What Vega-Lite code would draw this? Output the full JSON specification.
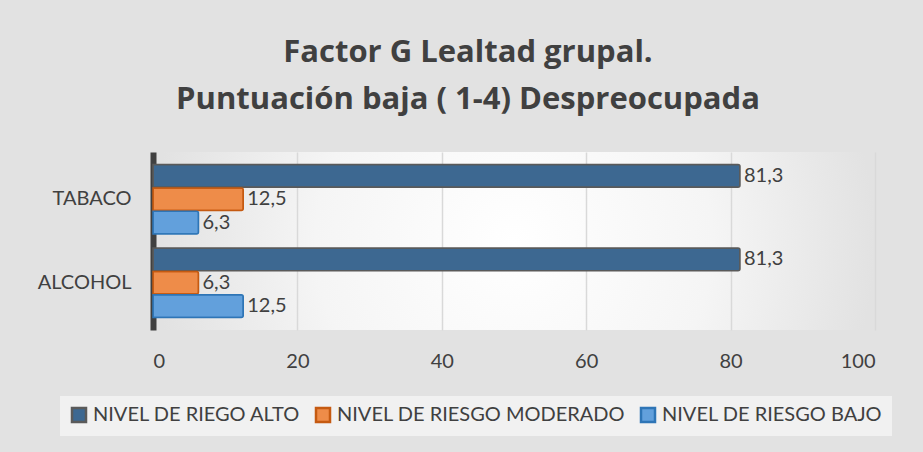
{
  "$schema": "https://vega.github.io/schema/vega-lite/v6.json",
  "autosize": "none",
  "width": 722,
  "height": 178,
  "padding": {"left": 153, "top": 152, "right": 48, "bottom": 122},
  "background": "#e2e2e2",
  "config": {
    "font": "Lato",
    "view": {"stroke": null, "fill": {"gradient": "radial", "stops": [{"offset": 0, "color": "#ffffff"}, {"offset": 0.55, "color": "#f5f5f5"}, {"offset": 1, "color": "#e2e2e2"}]}}
  },
  "title": {
    "text": ["Factor G Lealtad grupal.", "Puntuación baja ( 1-4) Despreocupada"],
    "font": "Open Sans",
    "fontSize": 31,
    "fontWeight": "bold",
    "color": "#404040",
    "lineHeight": 47,
    "anchor": "middle",
    "dx": -46,
    "offset": 36
  },
  "data": {
    "values": [
      {"categoria": "TABACO", "serie": "NIVEL DE RIEGO ALTO", "valor": 81.3, "etiqueta": "81,3"},
      {"categoria": "TABACO", "serie": "NIVEL DE RIESGO MODERADO", "valor": 12.5, "etiqueta": "12,5"},
      {"categoria": "TABACO", "serie": "NIVEL DE RIESGO BAJO", "valor": 6.3, "etiqueta": "6,3"},
      {"categoria": "ALCOHOL", "serie": "NIVEL DE RIEGO ALTO", "valor": 81.3, "etiqueta": "81,3"},
      {"categoria": "ALCOHOL", "serie": "NIVEL DE RIESGO MODERADO", "valor": 6.3, "etiqueta": "6,3"},
      {"categoria": "ALCOHOL", "serie": "NIVEL DE RIESGO BAJO", "valor": 12.5, "etiqueta": "12,5"}
    ]
  },
  "encoding": {
    "y": {
      "field": "categoria", "type": "nominal", "sort": ["TABACO", "ALCOHOL"],
      "scale": {"paddingInner": 0.17, "paddingOuter": 0.15},
      "axis": {"title": null, "labelFontSize": 20, "labelColor": "#404040", "labelPadding": 22, "ticks": false, "domainColor": "#404040", "domainWidth": 6, "labelFont": "Lato"}
    },
    "yOffset": {
      "field": "serie", "type": "nominal",
      "sort": ["NIVEL DE RIEGO ALTO", "NIVEL DE RIESGO MODERADO", "NIVEL DE RIESGO BAJO"],
      "scale": {"paddingInner": 0.03}
    },
    "x": {
      "field": "valor", "type": "quantitative",
      "scale": {"domain": [0, 100]},
      "axis": {"title": null, "values": [0, 20, 40, 60, 80, 100], "labelFontSize": 20, "labelColor": "#404040", "labelPadding": 21, "ticks": false, "domain": false, "grid": true, "gridColor": "#d9d9d9", "gridWidth": 1.5, "labelFont": "Lato"}
    }
  },
  "layer": [
    {
      "mark": {"type": "bar", "strokeWidth": 1.5, "cornerRadiusEnd": 2},
      "encoding": {
        "color": {
          "field": "serie", "type": "nominal",
          "sort": ["NIVEL DE RIEGO ALTO", "NIVEL DE RIESGO MODERADO", "NIVEL DE RIESGO BAJO"],
          "scale": {"domain": ["NIVEL DE RIEGO ALTO", "NIVEL DE RIESGO MODERADO", "NIVEL DE RIESGO BAJO"], "range": ["#3d6891", "#ee8c49", "#62a0dc"]},
          "legend": {
            "title": null, "orient": "none", "direction": "horizontal",
            "legendX": -93, "legendY": 244,
            "symbolType": "square", "symbolSize": 196, "symbolStrokeWidth": 2.5,
            "labelFontSize": 20, "labelColor": "#404040", "labelFont": "Lato", "labelLimit": 0,
            "columnPadding": 10, "labelOffset": 4,
            "fillColor": "#f1f1f1", "padding": 9
          }
        },
        "stroke": {
          "field": "serie", "type": "nominal",
          "scale": {"domain": ["NIVEL DE RIEGO ALTO", "NIVEL DE RIESGO MODERADO", "NIVEL DE RIESGO BAJO"], "range": ["#5a5a5a", "#c55a11", "#2e75b6"]},
          "legend": null
        }
      }
    },
    {
      "mark": {"type": "text", "align": "left", "dx": 4, "fontSize": 20, "color": "#404040", "font": "Lato"},
      "encoding": {"text": {"field": "etiqueta"}}
    }
  ]
}
